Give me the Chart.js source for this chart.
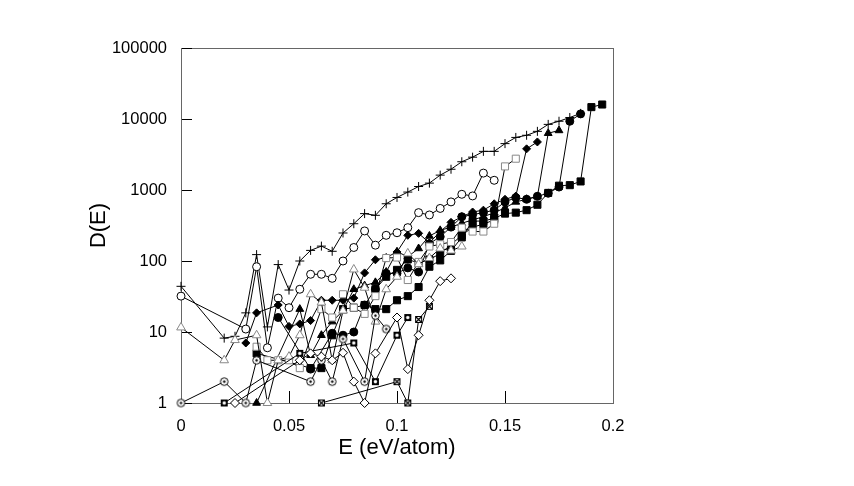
<!DOCTYPE html>
<html>
<head>
<meta charset="utf-8">
<script src="https://cdn.jsdelivr.net/npm/chart.js@4.4.1/dist/chart.umd.min.js"></script>
<style>
  html, body { margin: 0; padding: 0; background: #fff; }
  canvas { display: block; }
</style>
</head>
<body>
<canvas id="chart" width="854" height="486"></canvas>
<script>
const _ = null;

// energy grid (eV/atom)
const energy = [0, 0.005, 0.01, 0.015, 0.02, 0.025, 0.03, 0.035, 0.04, 0.045,
  0.05, 0.055, 0.06, 0.065, 0.07, 0.075, 0.08, 0.085, 0.09, 0.095,
  0.1, 0.105, 0.11, 0.115, 0.12, 0.125, 0.13, 0.135, 0.14, 0.145,
  0.15, 0.155, 0.16, 0.165, 0.17, 0.175, 0.18, 0.185, 0.19, 0.195];

// D(E) per series (null = no point)
const plusSeries = [44, _, _, _, 8.2, 8.7, 18.6, 123, 11.8, 89,
  39, 100, 141, 162, 137, 248, 335, 465, 440, 640,
  785, 935, 1120, 1250, 1620, 1960, 2500, 2900, 3500, 3500,
  4500, 5500, 5900, 6700, 8400, 9300, 10500, 12000, _, _];

const openCircle = [32, _, _, _, _, _, 11, 83, 6, 30,
  22, 40, 65, 65, 57, 100, 155, 265, 167, 230,
  250, 295, 480, 445, 550, 680, 870, 825, 1730, 1370,
  _, _, _, _, _, _, _, _, _, _];

const openTriangle = [11.6, _, _, _, 4, 7.7, _, 9, 1, 4,
  4.5, 9, 34, 26, 4, 20, 76, 42, 14, 40,
  60, 128, 90, 110, 150, 140, 160, _, _, _,
  _, _, _, _, _, _, _, _, _, _];

const dotCircle = [1, _, _, _, 2, _, 1, 4, _, _,
  _, _, 2, 4, 2, 8, _, 2, 17, 11,
  _, _, _, _, _, _, _, _, _, _,
  _, _, _, _, _, _, _, _, _, _];

const filledDiamond = [_, _, _, _, _, _, 7, 18.6, _, 24,
  12, 13, 14.5, 28, 28, 28, 30, 68, 104, 112,
  134, 230, 245, 180, 260, 350, 420, 490, 520, 640,
  740, 820, 3800, 4750, _, _, _, _, _, _];

const filledTriangle = [_, _, _, _, _, _, _, 1, _, _,
  _, 21, 4.7, 9, 14, 20, 40, 45, 50, 70,
  135, 115, 150, 225, 270, 300, 340, 380, 420, 480,
  560, 680, 740, 810, 6300, 6900, _, _, _, _];

const filledCircle = [_, _, _, _, _, _, _, _, _, 16,
  _, _, 3, _, 9.6, 9, 10, 24, 40, 67,
  67, 80, 70, 175, 220, 300, 420, 450, 480, 520,
  680, 780, 740, 815, 900, 1100, 9300, 11800, _, _];

const filledSquare = [_, _, _, _, _, _, _, 5, _, _,
  _, _, 3.1, 3.1, 9, 21, 22, 24, 21, 21,
  28, 32, 43, 83, 102, 139, 215, 365, 365, 400,
  465, 480, 520, 620, 910, 1150, 1170, 1320, 14700, 16000];

const filledSquareB = [_, _, _, _, _, _, _, _, _, _,
  _, _, _, _, _, _, _, _, 40, 60,
  75, 105, 94, 105, 127, 170, 230, 300, 330, 380,
  _, _, _, _, _, _, _, _, _, _];

const openSquare = [_, _, _, _, _, _, _, 6.2, 4, 4,
  4, 3.1, _, 21, 16, 34, 22, 18, 32, 110,
  112, 54, 97, 160, 172, 185, 295, 260, 260, 335,
  2150, 2760, _, _, _, _, _, _, _, _];

const openDiamond = [_, _, _, _, _, 1, _, _, _, _,
  _, 4, 5, 4.5, 4, 5.1, 2, 1, 5, _,
  16, 3, 9, 28, 52, 57, _, _, _, _,
  _, _, _, _, _, _, _, _, _, _];

const boxCross = [_, _, _, _, _, _, _, _, _, _,
  _, _, _, 1, _, _, _, _, _, _,
  2, 1, 15, 23, _, _, _, _, _, _,
  _, _, _, _, _, _, _, _, _, _];

const boxDot = [_, _, _, _, 1, _, _, _, _, _,
  _, 5, _, _, _, _, 7, _, 2, _,
  9, 16, _, _, _, _, _, _, _, _,
  _, _, _, _, _, _, _, _, _, _];

const xTicks = [0, 0.05, 0.1, 0.15, 0.2];
const yTicks = [1, 10, 100, 1000, 10000, 100000];

// little canvases for the markers Chart.js doesn't have
function marker(size, draw) {
  const c = document.createElement('canvas');
  c.width = size; c.height = size;
  draw(c.getContext('2d'), size / 2);
  return c;
}
const dotCircleImg = marker(11, (g, m) => {
  g.beginPath(); g.arc(m, m, 3.8, 0, Math.PI * 2);
  g.fillStyle = '#fff'; g.fill();
  g.strokeStyle = '#000'; g.lineWidth = 1; g.stroke();
  g.beginPath(); g.arc(m, m, 1.2, 0, Math.PI * 2);
  g.fillStyle = '#000'; g.fill();
});
const boxDotImg = marker(9, (g, m) => {
  g.fillStyle = '#000'; g.fillRect(1, 1, 7, 7);
  g.beginPath(); g.arc(m, m, 1.7, 0, Math.PI * 2);
  g.fillStyle = '#fff'; g.fill();
});
const boxCrossImg = marker(9, (g, m) => {
  g.fillStyle = '#000'; g.fillRect(1, 1, 7, 7);
  g.fillStyle = '#fff'; g.fillRect(2, 2, 5, 5);
  g.strokeStyle = '#000'; g.lineWidth = 1.2;
  g.beginPath(); g.moveTo(2, 2); g.lineTo(7, 7); g.moveTo(7, 2); g.lineTo(2, 7); g.stroke();
});

function pts(values) {
  const out = [];
  values.forEach((v, i) => { if (v !== null) out.push({x: energy[i], y: v}); });
  return out;
}

function series(values, style, radius, fill, edge) {
  return {
    data: pts(values),
    borderColor: '#000',
    borderWidth: 1,
    pointStyle: style,
    pointRadius: radius,
    pointBackgroundColor: fill,
    pointBorderColor: edge || '#000',
    pointBorderWidth: 1,
    tension: 0,
    fill: false,
    clip: false
  };
}

const datasets = [
  series(openDiamond, 'rectRot', 4.5, '#fff'),
  series(boxCross, boxCrossImg, 4, '#000'),
  series(boxDot, boxDotImg, 4, '#000'),
  series(dotCircle, dotCircleImg, 4, '#fff'),
  series(openTriangle, 'triangle', 5, '#fff', '#888'),
  series(openSquare, 'rect', 5, '#fff', '#888'),
  series(filledSquareB, 'rect', 5, '#000'),
  series(filledTriangle, 'triangle', 4.5, '#000'),
  series(filledDiamond, 'rectRot', 4, '#000'),
  series(filledCircle, 'circle', 4, '#000'),
  series(filledSquare, 'rect', 5, '#000'),
  series(openCircle, 'circle', 4, '#fff'),
  series(plusSeries, 'cross', 4.5, '#000')
];

// frame plus inward tick marks
const frameTicks = {
  id: 'frameTicks',
  beforeDatasetsDraw(chart) {
    const {ctx, chartArea: a, scales} = chart;
    ctx.save();
    ctx.lineWidth = 1;
    ctx.strokeStyle = '#666';
    ctx.strokeRect(a.left + 0.5, a.top + 0.5, a.right - a.left, a.bottom - a.top);
    ctx.strokeStyle = '#000';
    ctx.beginPath();
    yTicks.forEach(v => {
      const py = Math.round(scales.y.getPixelForValue(v)) + 0.5;
      ctx.moveTo(a.left + 1, py); ctx.lineTo(a.left + 11, py);
    });
    xTicks.slice(1, -1).forEach(v => {
      const px = Math.round(scales.x.getPixelForValue(v)) + 0.5;
      ctx.moveTo(px, a.bottom); ctx.lineTo(px, a.bottom - 12);
    });
    ctx.stroke();
    ctx.restore();
  }
};

const family = '"Liberation Sans", Arial, sans-serif';
const tickFont = {family, size: 16.5};
const titleFont = {family, size: 22};

new Chart(document.getElementById('chart'), {
  type: 'line',
  data: {datasets},
  options: {
    responsive: false,
    animation: false,
    layout: {padding: {top: 48, right: 241, left: 0, bottom: 0}},
    plugins: {legend: {display: false}, tooltip: {enabled: false}},
    scales: {
      x: {
        type: 'linear', min: 0, max: 0.2,
        grid: {display: false, drawTicks: false},
        border: {display: false},
        afterBuildTicks: s => { s.ticks = xTicks.map(v => ({value: v})); },
        afterFit: s => { s.height = 83; },
        ticks: {color: '#000', font: tickFont, padding: 14, maxRotation: 0,
          callback: v => String(v)},
        title: {display: true, text: 'E (eV/atom)', color: '#000',
          font: titleFont, padding: {top: 0, bottom: 25}}
      },
      y: {
        type: 'logarithmic', min: 1, max: 100000,
        grid: {display: false, drawTicks: false},
        border: {display: false},
        afterBuildTicks: s => { s.ticks = yTicks.map(v => ({value: v})); },
        afterFit: s => { s.width = 181; },
        ticks: {color: '#000', font: tickFont, padding: 14,
          callback: v => String(v)},
        title: {display: true, text: 'D(E)', color: '#000',
          font: titleFont, padding: {top: 86, bottom: 0}}
      }
    }
  },
  plugins: [frameTicks]
});
</script>
</body>
</html>
